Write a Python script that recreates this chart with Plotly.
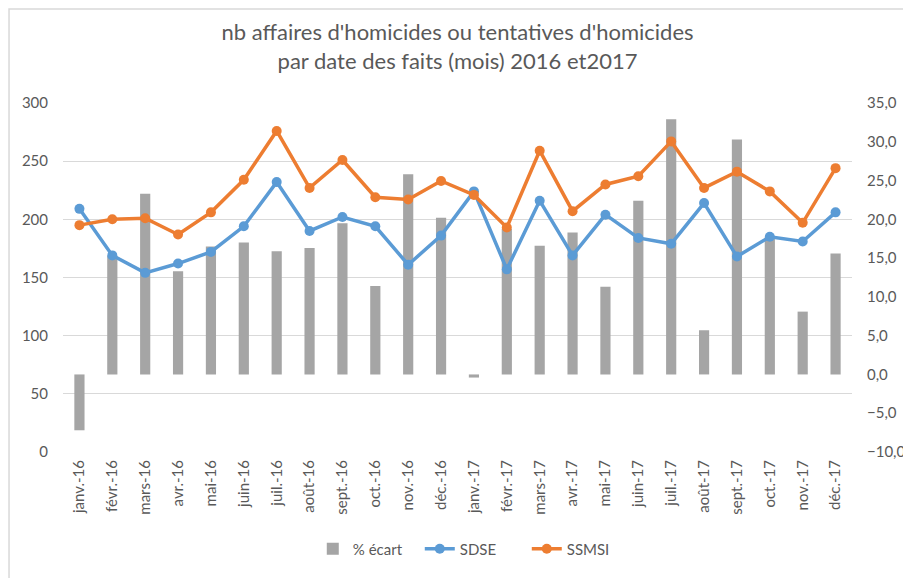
import plotly.graph_objects as go

months = ["janv.-16", "févr.-16", "mars-16", "avr.-16", "mai-16", "juin-16", "juil.-16", "août-16",
          "sept.-16", "oct.-16", "nov.-16", "déc.-16", "janv.-17", "févr.-17", "mars-17", "avr.-17",
          "mai-17", "juin-17", "juil.-17", "août-17", "sept.-17", "oct.-17", "nov.-17", "déc.-17"]

sdse = [209, 169, 154, 162, 172, 194, 232, 190, 202, 194, 161, 186,
        224, 157, 216, 169, 204, 184, 179, 214, 168, 185, 181, 206]

ssmsi = [195, 200, 201, 187, 206, 234, 276, 227, 251, 219, 217, 233,
         221, 193, 259, 207, 230, 237, 267, 227, 241, 224, 197, 244]

ecart = [-7.2, 15.3, 23.3, 13.3, 16.5, 17.0, 15.9, 16.3, 19.5, 11.4, 25.8, 20.2,
         -0.4, 18.8, 16.6, 18.3, 11.3, 22.4, 32.9, 5.7, 30.3, 17.7, 8.1, 15.6]

title_text = "nb affaires d'homicides ou tentatives d'homicides<br>par date des faits (mois) 2016 et2017"

FONT = "Lato, 'Noto Sans', sans-serif"
GRAY = "#595959"

fig = go.Figure()
fig.add_trace(go.Bar(x=months, y=ecart, name="% écart", marker=dict(color="#A5A5A5", line=dict(width=0)),
                     yaxis="y"))
fig.add_trace(go.Scatter(x=months, y=sdse, name="SDSE", mode="lines+markers",
                         line=dict(color="#5B9BD5", width=3.5), marker=dict(size=10, color="#5B9BD5"),
                         yaxis="y2"))
fig.add_trace(go.Scatter(x=months, y=ssmsi, name="SSMSI", mode="lines+markers",
                         line=dict(color="#ED7D31", width=3.5), marker=dict(size=10, color="#ED7D31"),
                         yaxis="y2"))

# page has an 8px body margin: figure is shifted accordingly
fig.update_layout(
    width=903, height=570,
    margin=dict(l=55, r=59, t=95, b=126, autoexpand=False),
    paper_bgcolor="white", plot_bgcolor="white",
    separators=", ",
    bargap=0.69,
    font=dict(family=FONT, color=GRAY, size=15),
    title=dict(text=title_text, x=0.5, xref="paper", xanchor="center", y=0.943, yanchor="middle",
               font=dict(family=FONT, size=22, color=GRAY)),
    xaxis=dict(type="category", range=[-0.5, len(months) - 0.5], tickangle=-90, showgrid=False,
               showline=False, ticks="", automargin=False, ticklabelstandoff=4,
               tickfont=dict(size=15, color=GRAY)),
    yaxis=dict(side="right", range=[-10, 35], dtick=5, tickformat=".1f", showgrid=False,
               zeroline=False, showline=False, ticks="", automargin=False, ticklabelstandoff=14,
               tickfont=dict(size=15, color=GRAY)),
    yaxis2=dict(side="left", overlaying="y", range=[0, 300], dtick=50, showgrid=True,
                gridcolor="#D9D9D9", gridwidth=1, zeroline=False, showline=False, ticks="",
                automargin=False, ticklabelstandoff=14, tickfont=dict(size=15, color=GRAY)),
    legend=dict(orientation="h", x=0.52, xanchor="center", y=-0.278, yanchor="middle",
                font=dict(size=15, color=GRAY), traceorder="normal",
                entrywidth=62, entrywidthmode="pixels"),
    showlegend=True,
    shapes=[dict(type="rect", xref="paper", yref="paper", x0=-0.0684, x1=1.3, y0=-0.6, y1=1.269,
                 line=dict(color="#D9D9D9", width=1.5), layer="below")],
)

fig.write_html("out.html")
